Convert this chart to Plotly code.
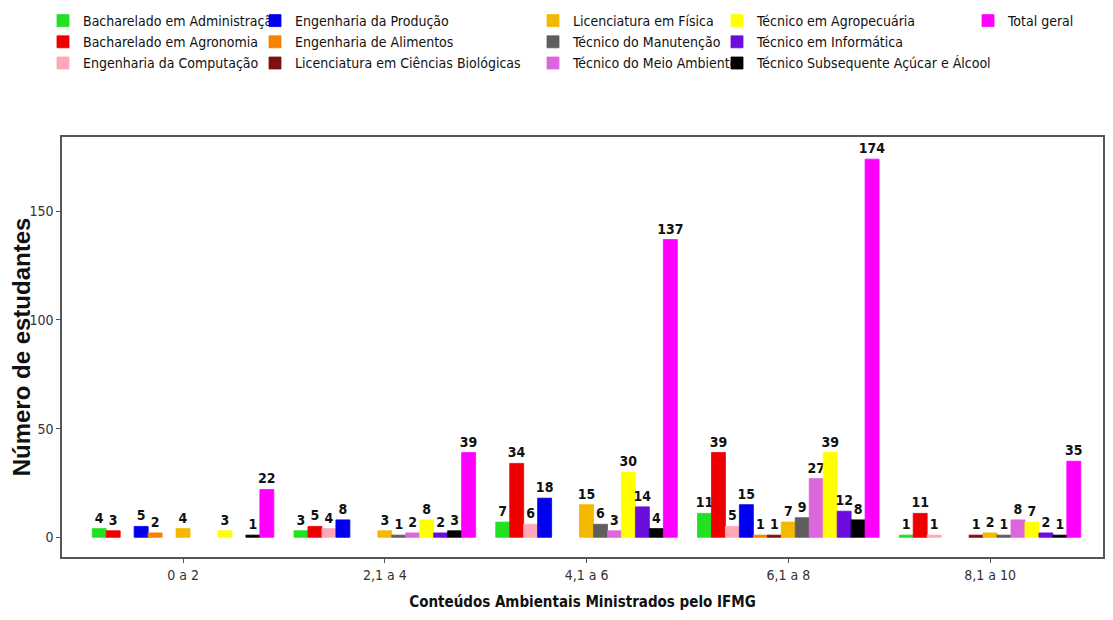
import plotly.graph_objects as go

categories = ["0 a 2", "2,1 a 4", "4,1 a 6", "6,1 a 8", "8,1 a 10"]

series_names = [
    "Bacharelado em Administração",
    "Bacharelado em Agronomia",
    "Engenharia da Computação",
    "Engenharia da Produção",
    "Engenharia de Alimentos",
    "Licenciatura em Ciências Biológicas",
    "Licenciatura em Física",
    "Técnico do Manutenção",
    "Técnico do Meio Ambiente",
    "Técnico em Agropecuária",
    "Técnico em Informática",
    "Técnico Subsequente Açúcar e Álcool",
    "Total geral",
]

bach_adm = [4, 3, 7, 11, 1]
bach_agro = [3, 5, 34, 39, 11]
eng_comp = [None, 4, 6, 5, 1]
eng_prod = [5, 8, 18, 15, None]
eng_alim = [2, None, None, 1, None]
lic_bio = [None, None, None, 1, 1]
lic_fis = [4, 3, 15, 7, 2]
tec_manut = [None, 1, 6, 9, 1]
tec_meio = [None, 2, 3, 27, 8]
tec_agro = [3, 8, 30, 39, 7]
tec_info = [None, 2, 14, 12, 2]
tec_sub = [1, 3, 4, 8, 1]
total_geral = [22, 39, 137, 174, 35]

series_values = [bach_adm, bach_agro, eng_comp, eng_prod, eng_alim, lic_bio,
                 lic_fis, tec_manut, tec_meio, tec_agro, tec_info, tec_sub,
                 total_geral]

colors = ["#22E022", "#EE0000", "#FFA8B8", "#0000EE", "#F58200", "#7F1010",
          "#F5B800", "#5E5E5E", "#DD66DD", "#FFFF00", "#6A0DDD", "#000000",
          "#FF00FF"]

legend_ids = ["legend", "legend", "legend",
              "legend2", "legend2", "legend2",
              "legend3", "legend3", "legend3",
              "legend4", "legend4", "legend4",
              "legend5"]

NARROW = "DejaVu Sans Condensed, Liberation Sans Narrow, sans-serif"
OFF = 8  # page body margin
W, H = 1113 - 2 * OFF, 620 - 2 * OFF
ML, MR, MT, MB = 62 - OFF, 2, 137 - OFF, 55
PW, PH = W - ML - MR, H - MT - MB

fig = go.Figure()
for name, vals, col, lg in zip(series_names, series_values, colors, legend_ids):
    fig.add_trace(go.Bar(
        x=categories, y=vals, name=name, legend=lg,
        marker=dict(color=col, line=dict(color=col, width=0.8)),
        text=[("" if v is None else str(v)) for v in vals],
        textposition="outside", cliponaxis=False, constraintext="none",
        textangle=0,
        textfont=dict(family=NARROW, size=14, color="#111111", weight="bold"),
    ))

text_x = [83, 295, 573, 757, 1008]
legend_common = dict(
    xanchor="left", yanchor="top",
    orientation="v", bgcolor="rgba(0,0,0,0)",
    font=dict(family=NARROW, size=14, color="#111111"),
    itemclick=False, itemdoubleclick=False,
)
layout_legends = {}
for i, tx in enumerate(text_x):
    key = "legend" if i == 0 else f"legend{i+1}"
    layout_legends[key] = dict(x=(tx - OFF - 40 - ML) / PW, y=1 + (MT + 3) / PH,
                               **legend_common)

fig.update_layout(
    width=W, height=H,
    margin=dict(l=ML, r=MR, t=MT, b=MB, autoexpand=False),
    barmode="group", bargap=0.1, bargroupgap=0,
    plot_bgcolor="white", paper_bgcolor="white",
    showlegend=True,
    **layout_legends,
)

fig.update_xaxes(
    type="category", range=[-0.6, 4.56], automargin=False,
    showline=True, mirror=True, linecolor="#555555", linewidth=1.5,
    ticks="outside", ticklen=4, tickcolor="#555555",
    showgrid=False, zeroline=False,
    tickfont=dict(family=NARROW, size=14, color="#333333"),
    title=dict(text="Conteúdos Ambientais Ministrados pelo IFMG",
               font=dict(family=NARROW, size=15, color="#111111", weight="bold")),
)
fig.update_yaxes(
    range=[-9.07, 184.2], automargin=True,
    tickvals=[0, 50, 100, 150],
    showline=True, mirror=True, linecolor="#555555", linewidth=1.5,
    ticks="outside", ticklen=4, tickcolor="#555555",
    showgrid=False, zeroline=False,
    tickfont=dict(family=NARROW, size=14, color="#333333"),
    title=dict(text="Número de estudantes", standoff=5,
               font=dict(family="Liberation Sans, Arial, sans-serif", size=24,
                         color="#111111", weight="bold")),
)

fig.write_html("out.html")
